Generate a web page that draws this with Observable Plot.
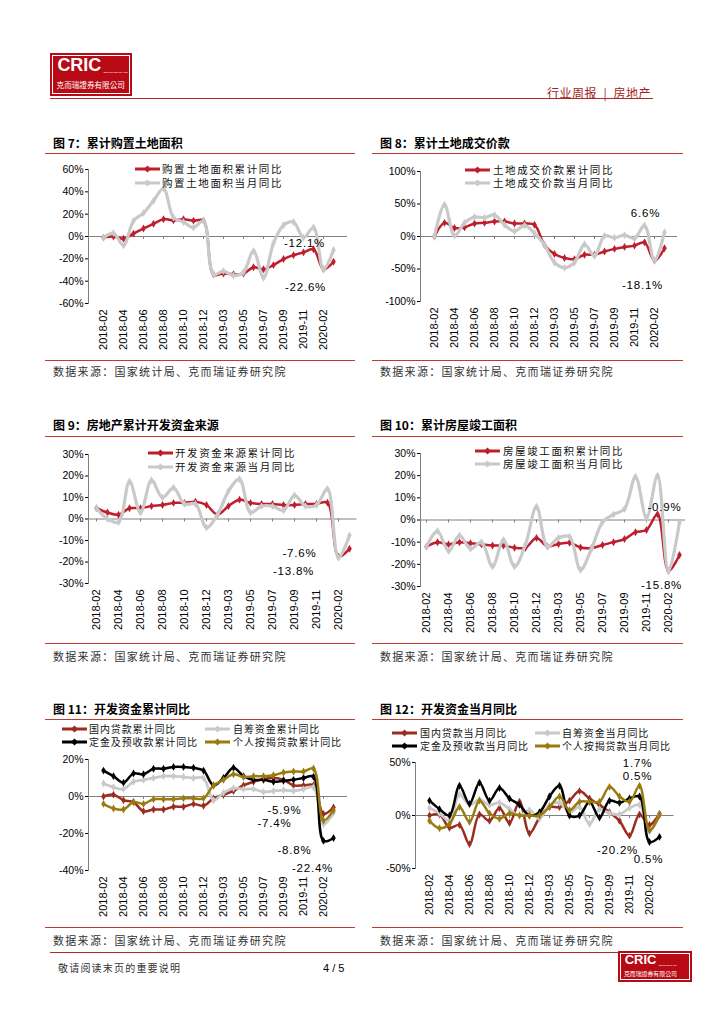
<!DOCTYPE html>
<html><head><meta charset="utf-8">
<script src="https://cdn.jsdelivr.net/npm/d3@7"></script>
<script src="https://cdn.jsdelivr.net/npm/@observablehq/plot@0.6"></script>
<style>
body{margin:0;background:#fff;}
#page{position:relative;width:724px;height:1024px;overflow:hidden;background:#fff;font-family:"Noto Sans CJK SC","Liberation Sans",sans-serif;}
.abs{position:absolute;white-space:nowrap;}
.mid{transform:translateY(-50%);line-height:1;}
.title{font-weight:bold;font-size:12px;color:#000;}
.src{font-size:11px;color:#333;letter-spacing:1.3px;}
.hr{position:absolute;height:0;border-top:1.3px solid #C0392B;}
.leg{font-size:10.5px;color:#111;letter-spacing:1.6px;}
.leg2{font-size:10px;color:#111;letter-spacing:0.9px;}
svg.plot{position:absolute;overflow:visible;}
</style></head>
<body><div id="page"></div>
<script>
// ---------- data ----------
const months = ["2018-02","2018-03","2018-04","2018-05","2018-06","2018-07","2018-08","2018-09","2018-10","2018-11","2018-12",
  "2019-02","2019-03","2019-04","2019-05","2019-06","2019-07","2019-08","2019-09","2019-10","2019-11","2019-12",
  "2020-02","2020-03"];
const tickMonths = ["2018-02","2018-04","2018-06","2018-08","2018-10","2018-12","2019-03","2019-05","2019-07","2019-09","2019-11","2020-02"];

// 图7 购置土地面积
const landAreaCum   = [-1, 0, -2, 2.6, 7.2, 11.4, 15.5, 14.5, 15.5, 14.2, 14.2, -34.1, -33.1, -33.8, -33.2, -27.5, -29.4, -25.6, -20.2, -16.7, -14.2, -11.4, -29.3, -22.6];
const landAreaMonth = [-1, 3, -8, 14, 21, 32, 43, 17, 13, 8, 14, -34, -31, -35, -32, -13, -37, -6, 10, 13, -1, 8, -29.3, -12.1];
// 图8 土地成交价款
const landValueCum   = [0, 21, 13, 14, 20, 21, 23, 23, 20, 20, 18, -13, -27, -33, -35, -28, -28, -23, -19, -16, -14, -9, -37, -18.1];
const landValueMonth = [0, 49, 1, 21, 30, 29, 33, 18, 8, 17, 5, -13, -40, -48, -40, -12, -30, 1, -2, 2, -3, 17, -37, 6.6];
// 图9 开发资金来源
const devFundCum   = [5, 3, 2, 5, 5, 6, 6.5, 7.5, 7.5, 8, 6.5, 2, 6, 9, 7.5, 7, 7, 6.5, 6.5, 7, 7, 7.6, -17.5, -13.8];
const devFundMonth = [5, 0, -1.5, 17.5, 3, 18, 10, 14.5, 7, 7, -4, 2, 13, 18.5, 3, 6, 6, 4, 11, 6, 6.5, 14, -18, -7.6];
// 图10 房屋竣工面积
const completionCum   = [-12, -10, -11, -10, -10.5, -11, -11.5, -11.5, -12.5, -12.5, -8.1, -11.9, -10.8, -10.3, -12.4, -12.7, -11.3, -10, -8.6, -5.5, -4.5, 2.6, -22.9, -15.8];
const completionMonth = [-12, -5, -14, -7, -13, -10, -21, -9, -21, -11, 6, -12, -8, -7.5, -22.5, -13, -1, 2.5, 5, 19.5, 1, 20, -23, -0.9];
// 图11 开发资金累计同比
const domLoanCum  = [0, 1, -2, -3, -8, -7, -7, -5.5, -5.5, -4, -5, -1, 1, 3, 6, 8, 9.5, 10, 9, 6, 6, 6.1, -9.4, -5.9];
const selfFundCum = [7, 5, 4, 8, 9, 10, 11, 11, 10.5, 10, 10, -2, 2, 4.5, 4, 4, 2.5, 3, 3.5, 3, 4, 5, -15, -8.8];
const depositCum  = [14, 11, 7.5, 12.5, 12, 15, 15, 16, 16, 15.5, 14, 6, 10, 15.5, 11, 9, 9, 8, 8.5, 9, 10, 10.7, -24, -22.4];
const mortgageCum = [-4, -6.5, -7, -3, -4, -1.5, -1.5, -1.5, -1, -1, -1, 6, 9, 12, 10.5, 11, 11, 11.5, 13, 13.5, 13.5, 15.1, -13, -7.4];
// 图12 开发资金当月同比
const domLoanMon  = [0, 1, -11.6, -9, -27, 1, -5, 7, -7, 13, -17, -2, 8, 8, 14, 23, 16, 10, 3, -5, -19, 1, -9, 1.7];
const selfFundMon = [7, 2, -5, 20, 10, 15, 10, 12, 6, 0, 5, -3, 10, 12, 3, 8, -8, 6, 2, 1, 7, 10, -15, 0.5];
const depositMon  = [14, 6, 0, 28, 11, 31, 14, 26, 16, 10, 0, 3, 18, 28, 0, 0, 13, -2, 14, 12, 16, 18, -25, -20.2];
const mortgageMon = [-5, -12, -8, 8, -6, 14, 2, -3, 2, 0, 0, 0, 8, 18, 5, 13, 13, 13, 27, 18, 13, 28, -14, 0.5];

const ticks7 = [60, 40, 20, 0, -20, -40, -60];
const ticks8 = [100, 50, 0, -50, -100];
const ticks9 = [30, 20, 10, 0, -10, -20, -30];
const ticks11 = [20, 0, -20, -40];
const ticks12 = [50, 0, -50];

const labels7 = [-12.1, -22.6];
const labels8 = [6.6, -18.1];
const labels9 = [-7.6, -13.8];
const labels10 = [-0.9, -15.8];
const labels11 = [-5.9, -7.4, -8.8, -22.4];
const labels12 = [1.7, 0.5, -20.2, 0.5];

const sourceText = "数据来源：国家统计局、克而瑞证券研究院";

// ---------- styles ----------
const RED = "#BE1E2D", GRAY = "#C9C9C9", DRED = "#9B2D20", BLACK = "#000000", GOLD = "#9A7B0F";
const page = document.getElementById("page");

function el(html, cls, x, y, extra = "") {
  const d = document.createElement("div");
  d.className = "abs " + cls;
  d.style.cssText = `left:${x}px;top:${y}px;${extra}`;
  d.innerHTML = html;
  page.appendChild(d);
  return d;
}
function hr(x1, x2, y, color = "#C0392B", w = 1.3) {
  const d = document.createElement("div");
  d.className = "hr";
  d.style.cssText = `left:${x1}px;top:${y}px;width:${x2 - x1}px;border-top:${w}px solid ${color};`;
  page.appendChild(d);
}
function legend(x, y, textX, color, text, cls, sw = 25) {
  const s = `<svg width="${sw}" height="8" style="display:block"><line x1="0" y1="4" x2="${sw}" y2="4" stroke="${color}" stroke-width="3"/><path d="M${sw/2} 0.5 L${sw/2+3.5} 4 L${sw/2} 7.5 L${sw/2-3.5} 4Z" fill="${color}"/></svg>`;
  el(s, "mid", x, y);
  el(text, cls + " mid", textX, y);
}

function chart(p) {
  const marks = [
    Plot.ruleY([0], {stroke: "#808080", strokeWidth: 1}),
    Plot.ruleX(tickMonths, {x: d => d, y1: 0, y2: 0, insetTop: 0, insetBottom: -3, stroke: "#808080"}),
    Plot.frame({anchor: "left", stroke: "#808080"}),
    Plot.axisY({ticks: p.yTicks, tickFormat: d => `${d}%`, tickSize: 3, tickPadding: 2, label: null, fontSize: 10.5}),
    Plot.axisX({ticks: tickMonths, tickRotate: -90, tickSize: 0, tickPadding: 6, label: null, fontSize: 11})
  ];
  for (const s of p.series) {
    const data = months.map((m, i) => ({m, v: s.values[i]}));
    marks.push(Plot.line(data, {x: "m", y: "v", stroke: s.color, strokeWidth: s.w, curve: "catmull-rom"}));
    marks.push(Plot.dot(data, {x: "m", y: "v", symbol: "diamond", r: 2.4, fill: s.color}));
  }
  const last = months[months.length - 1];
  p.labels.forEach((v, i) => {
    marks.push(Plot.text([v], {x: () => last, y: d => d, text: d => `${d}%`, dx: p.offsets[i][0], dy: p.offsets[i][1], fontSize: 11.5, fill: "#000"}));
  });
  const svg = Plot.plot({
    width: p.width, height: p.height,
    marginLeft: p.ml, marginRight: p.mr, marginTop: p.mt, marginBottom: p.mb,
    x: {type: "point", domain: months, padding: 0.5, label: null},
    y: {domain: p.yDomain, label: null},
    style: {fontFamily: "'Liberation Sans', Arial, sans-serif", color: "#000", background: "transparent", overflow: "visible"},
    marks
  });
  svg.classList.add("plot");
  svg.style.left = p.left + "px";
  svg.style.top = p.top + "px";
  d3.select(svg).selectAll('g[aria-label="text"] text').attr("letter-spacing", "0.8");
  page.appendChild(svg);
}

// ---------- header ----------
function logo(x, y, w, h, big, small, tiny) {
  const bigW = big * 2.45;
  const d = el(`<div style="position:absolute;inset:2px;border:1px solid #fff;"></div>
    <div style="position:absolute;left:${w*0.09}px;top:${h*0.06}px;font:bold ${big}px 'Liberation Sans',Arial;color:#fff;line-height:1.1;">CRIC</div>
    <div style="position:absolute;left:${w*0.09 + bigW + 2}px;top:${h*0.44}px;font:${tiny}px 'Liberation Sans';color:#fff;line-height:1;">SECURITIES CO. LTD</div>
    <div style="position:absolute;left:${w*0.08}px;top:${h*0.62}px;font:${small}px 'Noto Sans CJK TC';color:#fff;line-height:1.2;">克而瑞證券有限公司</div>`,
    "", x, y, `width:${w}px;height:${h}px;background:#B80A14;overflow:hidden;`);
  return d;
}
logo(50, 53, 82, 43, 18, 7.6, 2.4);
el("行业周报 &nbsp;|&nbsp; 房地产", "", 547, 84, "font-size:12px;color:#A31F1F;letter-spacing:0.5px;");
hr(50, 653, 98, "#B0282A", 1.5);

// ---------- panels ----------
const rows = [
  {titleY: 143, ruleY: 153, srcRule: 360, srcY: 371},
  {titleY: 425, ruleY: 436, srcRule: 643, srcY: 656},
  {titleY: 709, ruleY: 719, srcRule: 927, srcY: 940}
];
const cols = [{x1: 45, x2: 355, tx: 53}, {x1: 372, x2: 683, tx: 380}];
const titles = [["图 7：累计购置土地面积", "图 8：累计土地成交价款"], ["图 9：房地产累计开发资金来源", "图 10：累计房屋竣工面积"], ["图 11：开发资金累计同比", "图 12：开发资金当月同比"]];
rows.forEach((r, ri) => cols.forEach((c, ci) => {
  el(titles[ri][ci], "title mid", c.tx, r.titleY);
  hr(c.x1, c.x2, r.ruleY);
  hr(c.x1, c.x2, r.srcRule);
  el(sourceText, "src mid", c.tx, r.srcY);
}));

// chart 7
chart({left: 45, top: 156, width: 310, height: 202, ml: 43, mr: 8, mt: 13, mb: 55, yDomain: [-60, 60], yTicks: ticks7,
  series: [{values: landAreaCum, color: RED, w: 2.5}, {values: landAreaMonth, color: GRAY, w: 3.2}],
  labels: labels7, offsets: [[-29, -7], [-28, 26]]});
legend(135, 169, 162, RED, "购置土地面积累计同比", "leg");
legend(135, 183, 162, GRAY, "购置土地面积当月同比", "leg");

// chart 8
chart({left: 372, top: 156, width: 311, height: 202, ml: 48, mr: 6, mt: 15, mb: 57, yDomain: [-100, 100], yTicks: ticks8,
  series: [{values: landValueCum, color: RED, w: 2.5}, {values: landValueMonth, color: GRAY, w: 3.2}],
  labels: labels8, offsets: [[-19, -19], [-22, 37]]});
legend(465, 170, 493, RED, "土地成交价款累计同比", "leg");
legend(465, 183, 493, GRAY, "土地成交价款当月同比", "leg");

// chart 9
chart({left: 45, top: 438, width: 315, height: 203, ml: 43, mr: 3.5, mt: 16, mb: 58, yDomain: [-30, 30], yTicks: ticks9,
  series: [{values: devFundCum, color: RED, w: 2.5}, {values: devFundMonth, color: GRAY, w: 3.2}],
  labels: labels9, offsets: [[-50, 18], [-56, 23]]});
legend(148, 453, 175, RED, "开发资金来源累计同比", "leg");
legend(148, 467, 175, GRAY, "开发资金来源当月同比", "leg");

// chart 10
chart({left: 372, top: 438, width: 315, height: 203, ml: 48, mr: 2, mt: 15, mb: 55, yDomain: [-30, 30], yTicks: ticks9,
  series: [{values: completionCum, color: RED, w: 2.5}, {values: completionMonth, color: GRAY, w: 3.2}],
  labels: labels10, offsets: [[-15, -14.5], [-18, 30]]});
legend(475, 451, 503, RED, "房屋竣工面积累计同比", "leg");
legend(475, 464, 503, GRAY, "房屋竣工面积当月同比", "leg");

// chart 11
chart({left: 45, top: 748, width: 310, height: 177, ml: 43, mr: 8, mt: 11, mb: 55, yDomain: [-40, 20], yTicks: ticks11,
  series: [{values: domLoanCum, color: DRED, w: 2.5}, {values: selfFundCum, color: GRAY, w: 2.8},
           {values: depositCum, color: BLACK, w: 2.5}, {values: mortgageCum, color: GOLD, w: 2.5}],
  labels: labels11, offsets: [[-49, 3], [-59, 13], [-39, 38], [-21, 30]]});
legend(62, 729, 89, DRED, "国内贷款累计同比", "leg2");
legend(205, 729, 233, GRAY, "自筹资金累计同比", "leg2");
legend(62, 742, 89, BLACK, "定金及预收款累计同比", "leg2");
legend(205, 742, 233, GOLD, "个人按揭贷款累计同比", "leg2");

// chart 12
chart({left: 372, top: 748, width: 311, height: 177, ml: 43, mr: 9.5, mt: 14, mb: 57, yDomain: [-50, 50], yTicks: ticks12,
  series: [{values: domLoanMon, color: DRED, w: 2.5}, {values: selfFundMon, color: GRAY, w: 2.8},
           {values: depositMon, color: BLACK, w: 2.5}, {values: mortgageMon, color: GOLD, w: 2.5}],
  labels: labels12, offsets: [[-22, -50], [-22, -38.5], [-42, 13], [-11, 44.5]]});
legend(392, 733, 420, DRED, "国内贷款当月同比", "leg2");
legend(535, 733, 562, GRAY, "自筹资金当月同比", "leg2");
legend(392, 746, 420, BLACK, "定金及预收款当月同比", "leg2");
legend(535, 746, 562, GOLD, "个人按揭贷款当月同比", "leg2");

// ---------- footer ----------
hr(50, 618, 952, "#B0282A", 1.3);
el("敬请阅读末页的重要说明", "mid", 58, 968, "font-size:10px;color:#333;letter-spacing:1.2px;");
el("4 / 5", "mid", 323, 968, "font:11px 'Liberation Sans',Arial;color:#000;");
logo(618, 951, 74, 31, 13, 5.9, 1.8);
</script>
</body></html>
